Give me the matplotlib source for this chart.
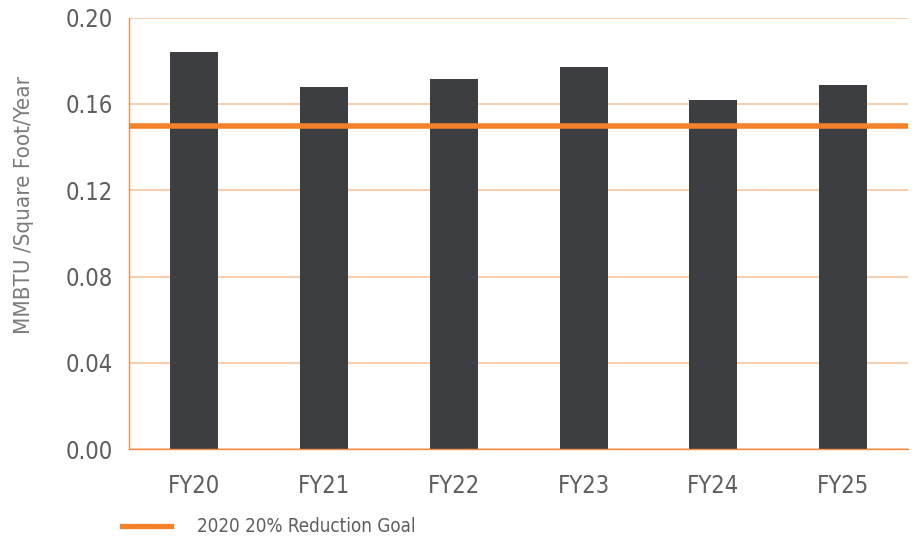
import matplotlib
matplotlib.use("Agg")
import matplotlib.pyplot as plt
from matplotlib.lines import Line2D
from matplotlib import font_manager

categories = ["FY20", "FY21", "FY22", "FY23", "FY24", "FY25"]
intensity = [0.184, 0.168, 0.1715, 0.177, 0.162, 0.1688]
goal = 0.15
goal_label = "2020 20% Reduction Goal"
y_ticks = [0.00, 0.04, 0.08, 0.12, 0.16, 0.20]
y_label = "MMBTU /Square Foot/Year"

BAR = "#3d3e42"
ORANGE = "#f5822a"
SPINE = "#f2904a"
GRID = "#f9c39b"
TEXT = "#5e5e5e"
LABEL = "#7a7a7a"

# prefer a narrow face when one is installed
narrow = [f for f in font_manager.fontManager.ttflist
          if f.stretch in ("condensed", "semi-condensed", "extra-condensed")
          or "Narrow" in f.name or "Condensed" in f.name]
narrow.sort(key=lambda f: (f.name != "DejaVu Sans", f.weight != 400))
if narrow:
    plt.rcParams["font.family"] = [narrow[0].name, "DejaVu Sans"]
    plt.rcParams["font.stretch"] = narrow[0].stretch
else:
    plt.rcParams["font.family"] = ["DejaVu Sans"]

fig = plt.figure(figsize=(9.14, 5.37), dpi=100)
ax = fig.add_axes([0.1415, 0.1637, 0.852, 0.8033])

x = range(len(categories))
ax.bar(x, intensity, width=0.37, color=BAR, zorder=2)
ax.axhline(goal, color=ORANGE, linewidth=4, zorder=3)

ax.set_xlim(-0.5, len(categories) - 0.5)
ax.set_ylim(0, 0.20)
ax.set_yticks(y_ticks)
ax.set_yticklabels([f"{v:.2f}" for v in y_ticks])
ax.set_xticks(list(x))
ax.set_xticklabels(categories)

ax.yaxis.grid(True, color=GRID, linewidth=1.2, zorder=1)
ax.set_axisbelow(True)
for side in ("top", "right"):
    ax.spines[side].set_visible(False)
for side in ("left", "bottom"):
    ax.spines[side].set_color(SPINE)
    ax.spines[side].set_linewidth(1.0)

ax.tick_params(axis="both", length=0, colors=TEXT, labelsize=17)
ax.tick_params(axis="y", pad=12)
ax.tick_params(axis="x", pad=18)
ax.set_ylabel(y_label, color=LABEL, fontsize=16)
ax.yaxis.set_label_coords(-0.122, 0.566)

handle = Line2D([], [], color=ORANGE, linewidth=3.8)
fig.legend([handle], [goal_label], loc="center left",
           bbox_to_anchor=(0.133, 0.019), frameon=False,
           handlelength=2.65, handletextpad=1.35, borderaxespad=0,
           borderpad=0, prop={"size": 13.5}, labelcolor=TEXT)

fig.savefig("out.png", dpi=100)
